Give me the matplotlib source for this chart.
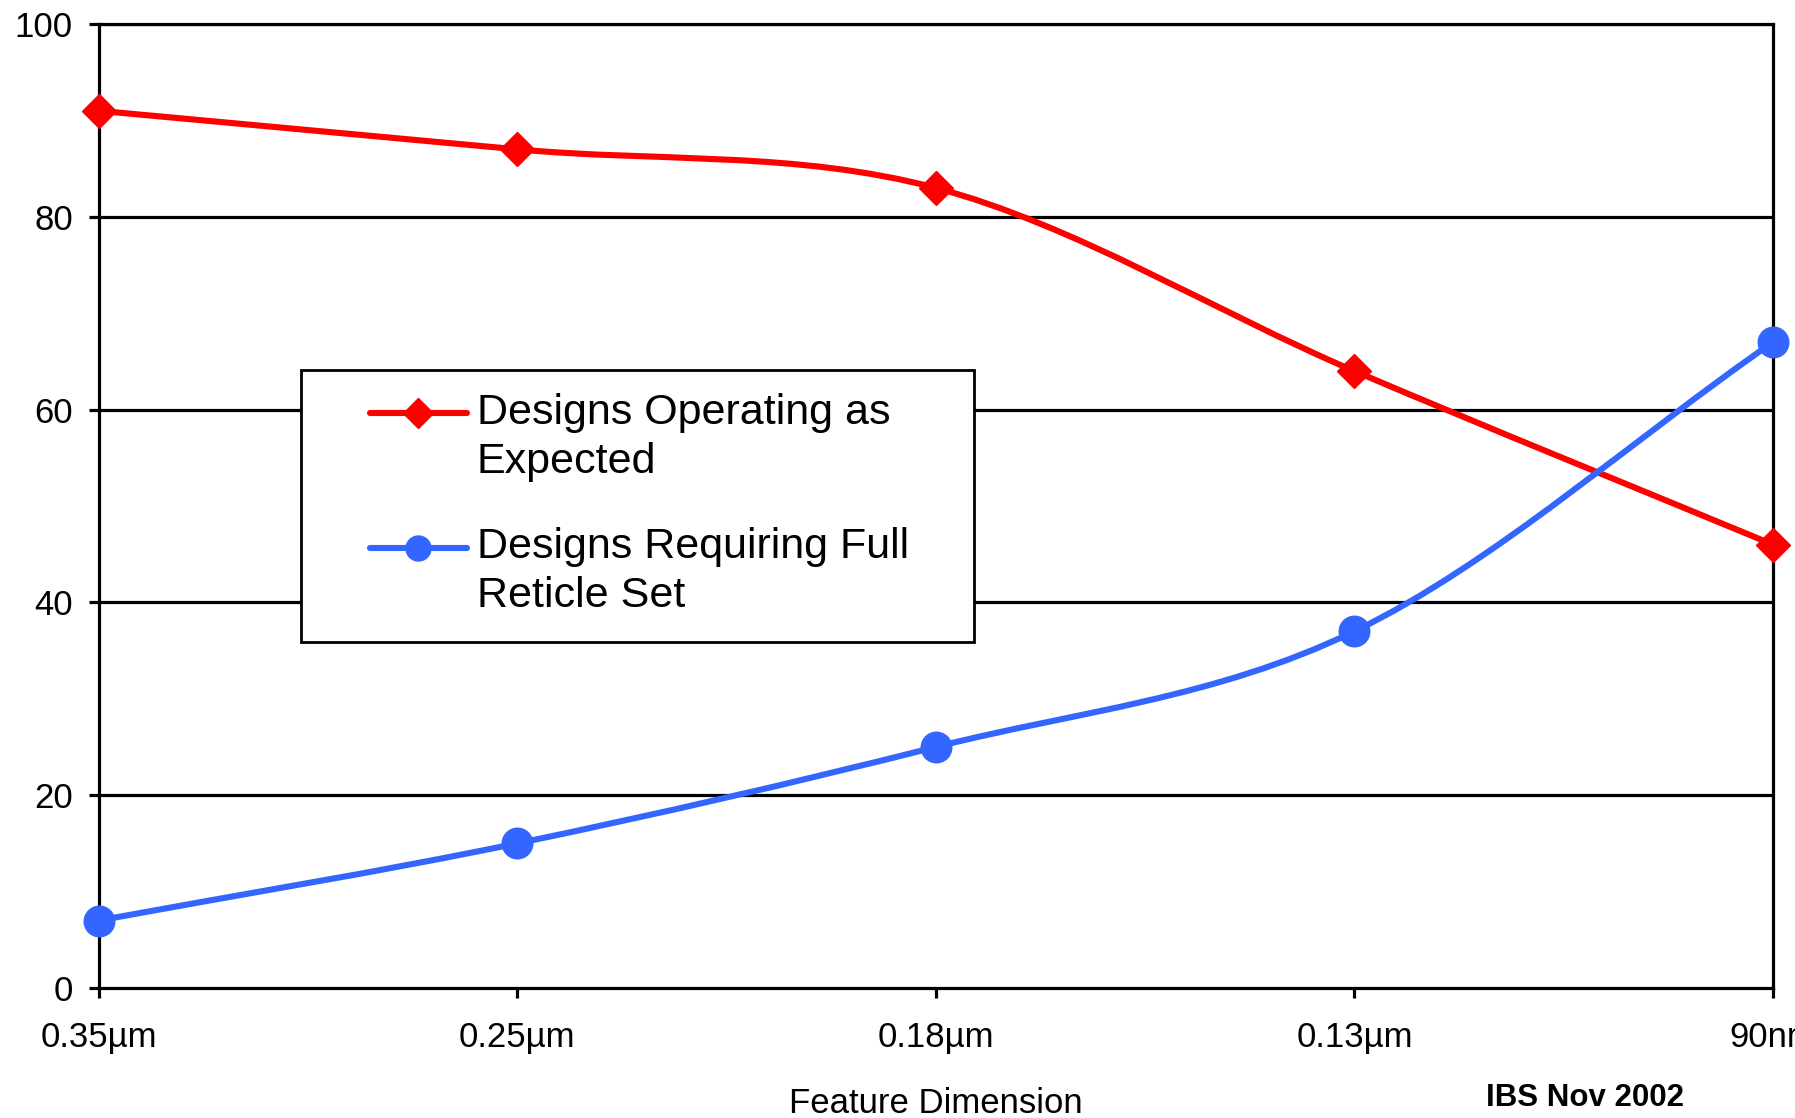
import matplotlib
matplotlib.use("Agg")
import matplotlib.pyplot as plt
from matplotlib.path import Path
from matplotlib.patches import PathPatch, Rectangle
from matplotlib.lines import Line2D

# Data
categories = ["0.35µm", "0.25µm", "0.18µm", "0.13µm", "90nm"]
operating_as_expected = [91, 87, 83, 64, 46]
full_reticle_set = [7, 15, 25, 37, 67]
series_labels = ["Designs Operating as\nExpected", "Designs Requiring Full\nReticle Set"]
y_ticks = [0, 20, 40, 60, 80, 100]

RED = "#FF0000"
BLUE = "#3366FF"
FONT = ["Liberation Sans", "DejaVu Sans"]

plt.rcParams["font.family"] = FONT

W, H = 1795, 1118
fig = plt.figure(figsize=(W / 100, H / 100), dpi=100)


def fx(px):
    return px / W


def fy(py):
    return 1 - py / H


ax = fig.add_axes([fx(98.5), fy(988), fx(1773) - fx(98.5), fy(24) - fy(988)])
x = list(range(len(categories)))
ax.set_xlim(0, len(categories) - 1)
ax.set_ylim(0, 100)


def smooth_path(xs, ys):
    """Cubic Bezier curve through the points (Catmull-Rom style control points)."""
    pts = list(zip(xs, ys))
    n = len(pts)
    verts = [pts[0]]
    codes = [Path.MOVETO]
    for i in range(n - 1):
        p1, p2 = pts[i], pts[i + 1]
        p0 = pts[i - 1] if i > 0 else (2 * p1[0] - p2[0], 2 * p1[1] - p2[1])
        p3 = pts[i + 2] if i + 2 < n else (2 * p2[0] - p1[0], 2 * p2[1] - p1[1])
        c1 = (p1[0] + (p2[0] - p0[0]) / 6, p1[1] + (p2[1] - p0[1]) / 6)
        c2 = (p2[0] - (p3[0] - p1[0]) / 6, p2[1] - (p3[1] - p1[1]) / 6)
        verts += [c1, c2, p2]
        codes += [Path.CURVE4] * 3
    return Path(verts, codes)


LW = 4.4
for ys, color in [(operating_as_expected, RED), (full_reticle_set, BLUE)]:
    patch = PathPatch(smooth_path(x, ys), fill=False, edgecolor=color, lw=LW,
                      transform=ax.transData, zorder=3, capstyle="round",
                      joinstyle="round")
    ax.add_patch(patch)

ax.plot(x, operating_as_expected, linestyle="none", marker="D", ms=17,
        color=RED, mec=RED, clip_on=False, zorder=4)
ax.plot(x, full_reticle_set, linestyle="none", marker="o", ms=22,
        color=BLUE, mec=BLUE, clip_on=False, zorder=4)

# Axes styling
ax.set_yticks(y_ticks)
ax.set_yticklabels([str(v) for v in y_ticks])
ax.set_xticks(x)
ax.set_xticklabels(categories)
for v in y_ticks[1:]:
    ax.axhline(v, color="black", lw=2.3, zorder=1)
for s in ax.spines.values():
    s.set_linewidth(2.3)
    s.set_color("black")
ax.tick_params(axis="both", direction="out", length=7.5, width=2.3,
               labelsize=25, colors="black")
ax.tick_params(axis="y", pad=11)
ax.tick_params(axis="x", pad=16)

# Legend box
leg_ax_box = Rectangle((fx(301), fy(642)), fx(974) - fx(301), fy(370) - fy(642),
                       transform=fig.transFigure, facecolor="white",
                       edgecolor="black", lw=2.0, zorder=10)
fig.patches.append(leg_ax_box)
handle_y = [413, 548]
markers = [("D", 15, RED), ("o", 18, BLUE)]
for hy, (mk, ms, col) in zip(handle_y, markers):
    fig.lines.append(Line2D([fx(370), fx(467)], [fy(hy), fy(hy)],
                            transform=fig.transFigure, color=col, lw=LW,
                            solid_capstyle="round", zorder=11))
    fig.lines.append(Line2D([fx(418)], [fy(hy)], transform=fig.transFigure,
                            marker=mk, ms=ms, color=col, mec=col,
                            linestyle="none", zorder=12))

baselines = [(424, 473), (558, 607)]
for label, (b1, b2) in zip(series_labels, baselines):
    l1, l2 = label.split("\n")
    fig.text(fx(477), fy(b1), l1, fontsize=31, va="baseline", ha="left", zorder=12)
    fig.text(fx(477), fy(b2), l2, fontsize=31, va="baseline", ha="left", zorder=12)

fig.text(fx(936), fy(1113), "Feature Dimension", fontsize=25,
         ha="center", va="baseline")
fig.text(fx(1585), fy(1106), "IBS Nov 2002", fontsize=22.5, fontweight="bold",
         ha="center", va="baseline")

fig.savefig("out.png", dpi=100)
